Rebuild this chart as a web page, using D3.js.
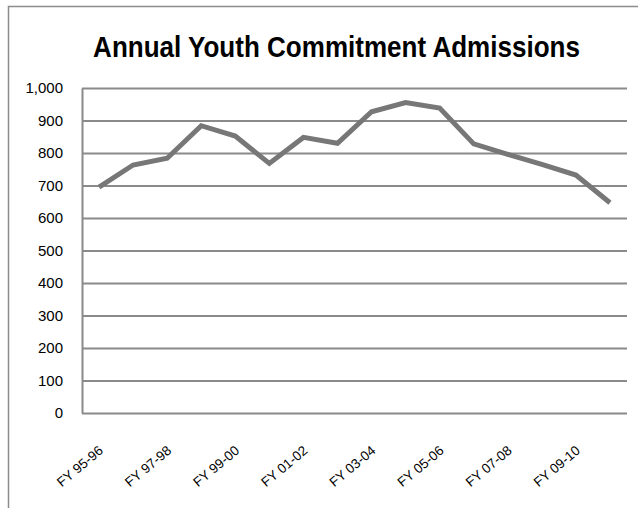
<!DOCTYPE html>
<html>
<head>
<meta charset="utf-8">
<script src="https://cdn.jsdelivr.net/npm/d3@7"></script>
<style>
  html, body { margin: 0; padding: 0; background: #fff; }
  svg { display: block; }
</style>
</head>
<body>
<svg id="chart" width="638" height="508"></svg>
<script>
// Fiscal years (one point per year)
const categories = [
  "FY 95-96", "FY 96-97", "FY 97-98", "FY 98-99", "FY 99-00", "FY 00-01",
  "FY 01-02", "FY 02-03", "FY 03-04", "FY 04-05", "FY 05-06", "FY 06-07",
  "FY 07-08", "FY 08-09", "FY 09-10", "FY 10-11"
];
// Youth commitment admissions per fiscal year
const admissions = [695, 763, 784, 884, 852, 768, 848, 830, 927, 955, 938, 828, 796, 765, 732, 647];
// Value axis ticks
const yTicks = [0, 100, 200, 300, 400, 500, 600, 700, 800, 900, 1000];
const title = "Annual Youth Commitment Admissions";

const svg = d3.select("#chart");
const plot = { left: 82, right: 627, top: 88, bottom: 413 };
const gridColor = "#8a8a8a";
const font = "'Liberation Sans', Arial, sans-serif";

// Outer chart frame (top and left edges)
svg.append("path")
  .attr("d", "M8.5,508 V6.5 H638")
  .attr("fill", "none")
  .attr("stroke", "#8c8c8c")
  .attr("stroke-width", 1.5);

// Title, narrowed horizontally to a condensed look
const titleWidth = 487;
const titleText = svg.append("text")
  .attr("x", 0)
  .attr("y", 0)
  .attr("text-anchor", "middle")
  .attr("font-family", font)
  .attr("font-weight", "bold")
  .attr("font-size", 30)
  .attr("fill", "#000")
  .text(title);
const natural = titleText.node().getComputedTextLength();
titleText.attr("transform", `translate(336.5,57) scale(${Math.min(1, titleWidth / natural)},1)`);

const x = d3.scaleBand()
  .domain(categories)
  .range([plot.left, plot.right]);

const y = d3.scaleLinear()
  .domain([0, 1000])
  .range([plot.bottom, plot.top]);

// Value axis with horizontal gridlines
const yAxis = svg.append("g")
  .attr("transform", `translate(${plot.left},0)`)
  .call(d3.axisLeft(y)
    .tickValues(yTicks)
    .tickSize(-(plot.right - plot.left))
    .tickSizeOuter(0)
    .tickPadding(19)
    .tickFormat(d3.format(",")));
yAxis.select(".domain")
  .attr("stroke", gridColor)
  .attr("stroke-width", 2);
yAxis.selectAll(".tick line")
  .attr("stroke", gridColor)
  .attr("stroke-width", 2);
yAxis.selectAll(".tick text")
  .attr("font-family", font)
  .attr("font-size", 15)
  .attr("fill", "#000");

// Category axis: every other fiscal year labelled, rotated
const xAxis = svg.append("g")
  .attr("transform", `translate(0,${plot.bottom})`)
  .call(d3.axisBottom(x)
    .tickValues(categories.filter((d, i) => i % 2 === 0))
    .tickSize(0)
    .tickPadding(0));
xAxis.select(".domain").remove();
xAxis.selectAll(".tick text")
  .attr("font-family", font)
  .attr("font-size", 13.5)
  .attr("fill", "#000")
  .attr("text-anchor", "end")
  .attr("dy", 0)
  .attr("transform", "translate(5,39) rotate(-40)");

// Admissions line
const line = d3.line()
  .x((d, i) => x(categories[i]) + x.bandwidth() / 2)
  .y(d => y(d));

svg.append("path")
  .datum(admissions)
  .attr("d", line)
  .attr("fill", "none")
  .attr("stroke", "#777777")
  .attr("stroke-width", 5)
  .attr("stroke-linejoin", "miter")
  .attr("stroke-linecap", "butt");
</script>
</body>
</html>
